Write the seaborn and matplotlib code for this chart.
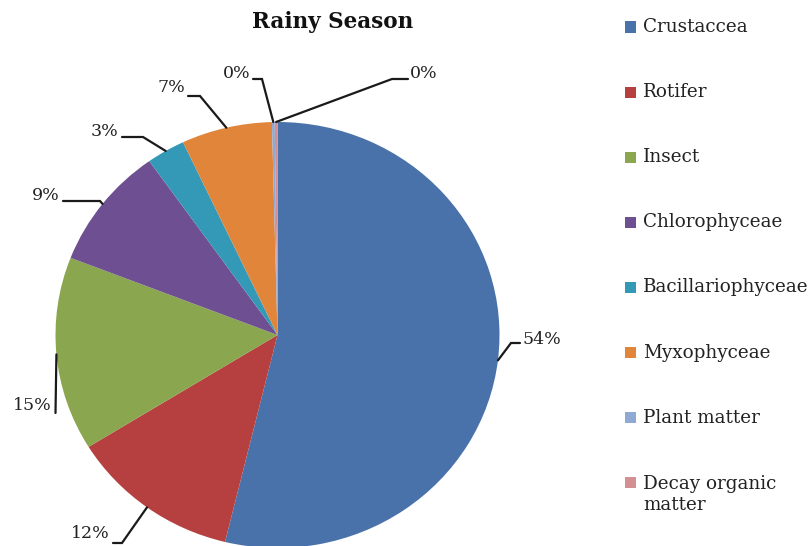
import matplotlib
matplotlib.use("Agg")
import matplotlib.pyplot as plt
from matplotlib.patches import Rectangle
import numpy as np
import seaborn as sns

categories = ["Crustaccea", "Rotifer", "Insect", "Chlorophyceae", "Bacillariophyceae",
              "Myxophyceae", "Plant matter", "Decay organic\nmatter"]
values = [53.8, 12.4, 14.7, 9.3, 2.8, 6.6, 0.2, 0.2]
pct_labels = ["54%", "12%", "15%", "9%", "3%", "7%", "0%", "0%"]
hex_colors = ["#4A72AA", "#B5403F", "#8AA64E", "#6E4F91", "#3399B6", "#E0853A", "#8EA9D3", "#D48F92"]

sns.set_style("white")
plt.rcParams["font.family"] = ["DejaVu Serif"]
palette = sns.color_palette(hex_colors)

W, H = 811, 546
CX, CY, RX, RY = 277.5, 335, 222, 213
fig = plt.figure(figsize=(W / 100, H / 100), dpi=100)
ax = fig.add_axes([(CX - RX) / W, (H - CY - RY) / H, 2 * RX / W, 2 * RY / H])

wedges, _ = ax.pie(values, colors=palette, startangle=90, counterclock=False,
                   radius=1, wedgeprops=dict(linewidth=0))
ax.set_xlim(-1, 1)
ax.set_ylim(-1, 1)
ax.set_aspect("auto")
ax.axis("off")


def px(x, y):
    return (x - CX) / RX, (CY - y) / RY


# layout for labels: elbow, tail, text position (pixels) and alignment
label_layout = [
    ((511, 343), (520, 343), (522, 340), "left"),
    ((122, 543), (113, 543), (110, 534), "right"),
    ((55.5, 413), (55.5, 413), (52, 406), "right"),
    ((100, 201), (63, 201), (60, 195), "right"),
    ((143, 137), (122, 137), (118, 131), "right"),
    ((200, 96), (188, 96), (185, 88), "right"),
    ((262, 79), (253, 79), (250, 74), "right"),
    ((392, 79), (408, 79), (410, 74), "left"),
]

for w, lab, (elb, tail, tpos, ha) in zip(wedges, pct_labels, label_layout):
    mid = np.deg2rad((w.theta1 + w.theta2) / 2)
    sx, sy = np.cos(mid), np.sin(mid)
    ex, ey = px(*elb)
    tx, ty = px(*tail)
    ax.plot([sx, ex, tx], [sy, ey, ty], color="#1a1a1a", lw=1.6, clip_on=False,
            solid_joinstyle="miter")
    x, y = px(*tpos)
    ax.text(x, y, lab, ha=ha, va="center", fontsize=12.5, color="#222222", clip_on=False)

fig.text(333 / W, 1 - 22 / H, "Rainy Season", ha="center", va="center",
         fontsize=15.5, fontweight="bold", color="#111111")

# legend (manual layout so the two-line entry keeps its swatch on the first line)
row0, step, line_px = 27, 65.1, 24
for i, (lab, c) in enumerate(zip(categories, palette)):
    yc = row0 + i * step
    fig.patches.append(Rectangle(((625) / W, 1 - (yc + 5.5) / H), 11 / W, 11 / H,
                                 transform=fig.transFigure, facecolor=c, edgecolor="none"))
    nlines = lab.count("\n") + 1
    fig.text(643 / W, 1 - (yc + (nlines - 1) * line_px / 2) / H, lab, ha="left", va="center",
             fontsize=13.2, color="#222222", linespacing=1.25)

fig.savefig("out.png", dpi=100)
